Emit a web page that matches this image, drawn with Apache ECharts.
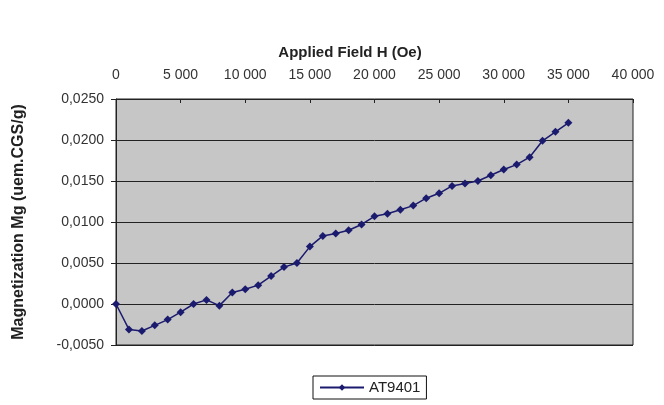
<!DOCTYPE html>
<html>
<head>
<meta charset="utf-8">
<script src="https://cdn.jsdelivr.net/npm/echarts@6/dist/echarts.min.js"></script>
<style>
  html, body { margin: 0; padding: 0; background: #fff; }
  #chart { width: 664px; height: 405px; }
</style>
</head>
<body>
<div id="chart"></div>
<script>
// champ appliqué (Oe) et aimantation mesurée
var fieldH = [0, 1000, 2000, 3000, 4000, 5000, 6000, 7000, 8000, 9000,
    10000, 11000, 12000, 13000, 14000, 15000, 16000, 17000, 18000, 19000,
    20000, 21000, 22000, 23000, 24000, 25000, 26000, 27000, 28000, 29000,
    30000, 31000, 32000, 33000, 34000, 35000];
var magnet = [0.0000, -0.0031, -0.0033, -0.0026, -0.0019, -0.0010, 0.0000, 0.0005, -0.0002, 0.0014,
    0.0018, 0.0023, 0.0034, 0.0045, 0.0050, 0.0070, 0.0083, 0.0086, 0.0090, 0.0097,
    0.0107, 0.0110, 0.0115, 0.0120, 0.0129, 0.0135, 0.0144, 0.0147, 0.0150, 0.0157,
    0.0164, 0.0170, 0.0179, 0.0199, 0.0210, 0.0221];
var serieName = 'AT9401';

var points = [];
for (var i = 0; i < fieldH.length; i++) {
    points.push([fieldH[i], magnet[i]]);
}

function fmtX(v) {
    if (v < 1000) return String(v);
    var s = String(v);
    return s.slice(0, s.length - 3) + ' ' + s.slice(s.length - 3);
}

var option = {
    animation: false,
    title: {
        text: 'Applied Field H (Oe)',
        left: 345,
        top: 40,
        textAlign: 'center',
        textStyle: { fontFamily: 'Liberation Sans', fontSize: 15, fontWeight: 'bold', color: '#222' }
    },
    grid: {
        left: 116, right: 31, top: 99, bottom: 60,
        outerBoundsMode: 'none',
        show: true, backgroundColor: '#c6c6c6', borderColor: '#222', borderWidth: 1
    },
    legend: {
        top: 376,
        left: 313,
        itemWidth: 44,
        itemHeight: 8,
        itemGap: 4,
        borderColor: '#111',
        borderWidth: 1,
        padding: [4, 6, 4, 6],
        textStyle: { fontFamily: 'Liberation Sans', fontSize: 15, color: '#222' },
        data: [serieName]
    },
    xAxis: {
        type: 'value',
        position: 'top',
        min: 0,
        max: 40000,
        interval: 5000,
        axisLine: { onZero: false, lineStyle: { color: '#222' } },
        axisTick: { inside: true, length: 4, lineStyle: { color: '#222' } },
        splitLine: { show: false },
        axisLabel: { formatter: fmtX, fontFamily: 'Liberation Sans', fontSize: 14, color: '#333', margin: 17 }
    },
    yAxis: {
        type: 'value',
        min: -0.005,
        max: 0.025,
        interval: 0.005,
        name: 'Magnetization Mg (uem.CGS/g)',
        nameLocation: 'middle',
        nameGap: 89,
        nameTextStyle: { fontFamily: 'Liberation Sans', fontSize: 16, fontWeight: 'bold', color: '#222' },
        axisLine: { show: true, lineStyle: { color: '#222' } },
        axisTick: { show: true, length: 5, lineStyle: { color: '#222' } },
        splitLine: { lineStyle: { color: '#222', width: 1 } },
        axisLabel: {
            formatter: function (v) { return v.toFixed(4).replace('.', ','); },
            fontFamily: 'Liberation Sans', fontSize: 14, color: '#333', margin: 12
        }
    },
    series: [
        {
            name: serieName,
            type: 'line',
            data: points,
            symbol: 'diamond',
            symbolSize: 8,
            itemStyle: { color: '#1a1a6e' },
            lineStyle: { color: '#1a1a6e', width: 1.5 }
        }
    ]
};

var chart = echarts.init(document.getElementById('chart'));
chart.setOption(option);
</script>
</body>
</html>
